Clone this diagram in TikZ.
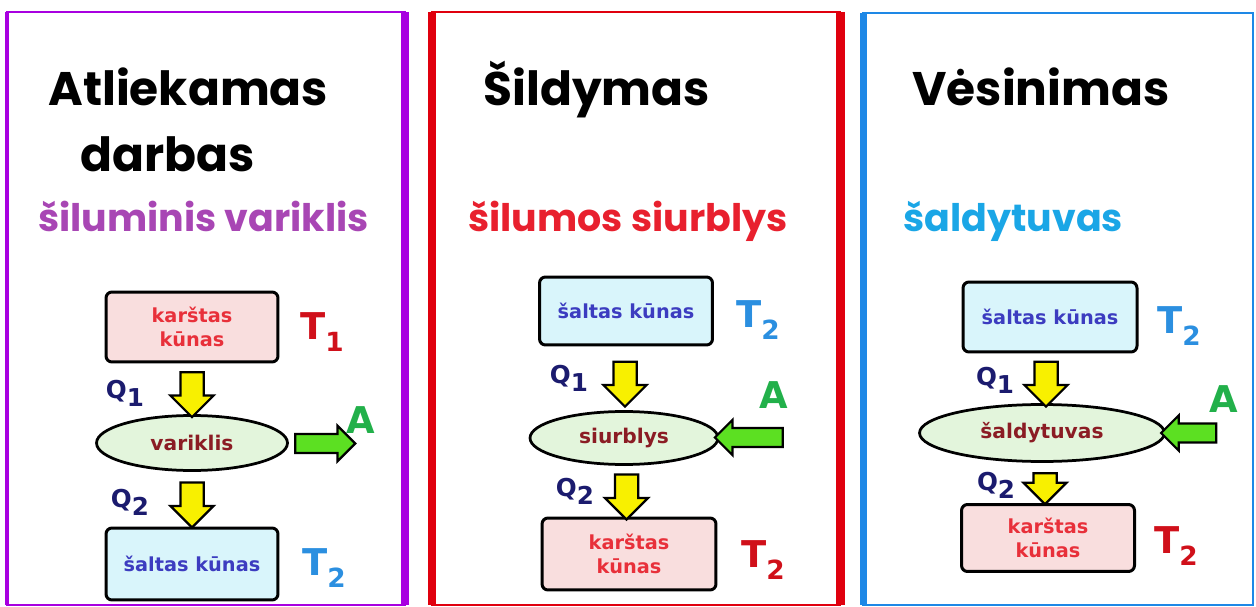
\documentclass[tikz,border=0pt]{standalone}
\usepackage{fontspec}
\setmainfont{DejaVu Sans}
\newfontfamily\headfont{Poppins}
\usetikzlibrary{shapes.geometric, shapes.arrows}

\definecolor{framepurple}{HTML}{A800E0}
\definecolor{framered}{HTML}{E0000E}
\definecolor{frameblue}{HTML}{1E88E6}
\definecolor{subpurple}{HTML}{A846B4}
\definecolor{subred}{HTML}{E8202E}
\definecolor{subblue}{HTML}{1AA6E6}
\definecolor{hotfill}{HTML}{F9DEDE}
\definecolor{coldfill}{HTML}{D9F5FB}
\definecolor{machinefill}{HTML}{E3F5DC}
\definecolor{hottext}{HTML}{E8303A}
\definecolor{coldtext}{HTML}{3C3CC0}
\definecolor{machinetext}{HTML}{8B1C24}
\definecolor{tempred}{HTML}{D0101A}
\definecolor{tempblue}{HTML}{2B8FE0}
\definecolor{heatnavy}{HTML}{1B1B6E}
\definecolor{workgreen}{HTML}{22B04A}
\definecolor{arrowgreen}{HTML}{5CE022}
\definecolor{arrowyellow}{HTML}{F8F000}

\newcommand{\withidx}[2]{#1\raisebox{-0.32em}{#2}}

\tikzset{
  headline/.style={anchor=base west, inner sep=0pt, font=\headfont\bfseries\fontsize{26.8}{28}\selectfont},
  subline/.style={anchor=base west, inner sep=0pt, font=\headfont\bfseries\fontsize{21.6}{24}\selectfont},
  body/.style={draw, line width=0.06cm, rounded corners=0.12cm, minimum width=3.44cm, minimum height=1.4cm, align=center, font=\bfseries\fontsize{11}{13.5}\selectfont},
  hotbody/.style={body, fill=hotfill, text=hottext},
  coldbody/.style={body, fill=coldfill, text=coldtext},
  machine/.style={ellipse, draw, line width=0.055cm, fill=machinefill, text=machinetext, inner sep=0pt, minimum height=1.1cm, font=\bfseries\fontsize{11.5}{13}\selectfont},
  heatflow/.style={single arrow, draw, line width=0.045cm, fill=arrowyellow, rotate=-90, inner xsep=0pt, inner ysep=0.21cm, single arrow head extend=0.2cm, minimum height=0.9cm},
  workflow/.style={single arrow, draw, line width=0.045cm, fill=arrowgreen, inner xsep=0pt, inner ysep=0.17cm, single arrow head extend=0.16cm, minimum height=1.2cm},
  templbl/.style={font=\bfseries\fontsize{21}{21}\selectfont},
  heatlbl/.style={text=heatnavy, font=\bfseries\fontsize{14}{14}\selectfont},
  worklbl/.style={text=workgreen, font=\bfseries\fontsize{21}{21}\selectfont},
}

\begin{document}
\begin{tikzpicture}[x=0.02cm, y=-0.02cm]
	\useasboundingbox (0,0) rectangle (1256,607);

	% frames
	\draw[framepurple, line width=0.05cm] (7,12) rectangle (405,605);
	\draw[framepurple, line width=0.1cm] (7,12) -- (7,605);
	\draw[framepurple, line width=0.16cm] (405,12) -- (405,605);
	\draw[framered, line width=0.05cm] (432,12) rectangle (840,605);
	\draw[framered, line width=0.16cm] (432,12) -- (432,605);
	\draw[framered, line width=0.18cm] (840,12) -- (840,605);
	\draw[frameblue, line width=0.05cm] (863,13) rectangle (1253,605);
	\draw[frameblue, line width=0.14cm] (863,13) -- (863,605);

	% headings
	\node[headline] (work) at (48,106) {Atliekamas};
	\node[headline] (work2) at (80,172) {darbas};
	\node[subline, text=subpurple] (engine) at (38,232) {šiluminis variklis};
	\node[headline] (heating) at (483,106) {Šildymas};
	\node[subline, text=subred] (pump) at (468,232) {šilumos siurblys};
	\node[headline] (cooling) at (912,106) {Vėsinimas};
	\node[subline, text=subblue] (fridge) at (903,232) {šaldytuvas};

	% heat engine
	\node[hotbody] (hot1) at (192,327) {karštas\\kūnas};
	\node[machine, minimum width=3.82cm] (eng1) at (192,443) {variklis};
	\node[coldbody, minimum height=1.44cm] (cold1) at (192,564) {šaltas kūnas};
	\path (hot1.south) -- node[heatflow] (q1arr1) {} (eng1.north);
	\path (eng1.south) -- node[heatflow] (q2arr1) {} (cold1.north);
	\coordinate (out1) at (352,444);
	\path (eng1.east) -- node[workflow] (warr1) {} (out1);
	\node[templbl, text=tempred] (t1a) at (322,332) {\withidx{T}{\fontsize{15}{15}\selectfont 1}};
	\node[templbl, text=tempblue] (t2a) at (324,568) {\withidx{T}{\fontsize{15}{15}\selectfont 2}};
	\node[heatlbl] (q1a) at (125,393) {\withidx{Q}{1}};
	\node[heatlbl] (q2a) at (130,502) {\withidx{Q}{2}};
	\node[worklbl] (wa) at (361,420) {A};

	% heat pump
	\node[coldbody, minimum width=3.46cm, minimum height=1.36cm] (cold2) at (626,311) {šaltas kūnas};
	\node[machine, minimum width=3.76cm, minimum height=1.06cm] (eng2) at (624,438) {siurblys};
	\node[hotbody, minimum width=3.48cm, minimum height=1.44cm] (hot2) at (629,554) {karštas\\kūnas};
	\path (cold2.south) -- node[heatflow] (q1arr2) {} (eng2.north);
	\path (eng2.south) -- node[heatflow] (q2arr2) {} (hot2.north);
	\coordinate (in2) at (788,437);
	\path (in2) -- node[workflow, rotate=180, minimum height=1.36cm] (warr2) {} (eng2.east);
	\node[templbl, text=tempblue] (t2b) at (758,320) {\withidx{T}{\fontsize{15}{15}\selectfont 2}};
	\node[templbl, text=tempred] (t2c) at (763,560) {\withidx{T}{\fontsize{15}{15}\selectfont 2}};
	\node[heatlbl] (q1b) at (569,378) {\withidx{Q}{1}};
	\node[heatlbl] (q2b) at (575,491) {\withidx{Q}{2}};
	\node[worklbl] (wb) at (774,395) {A};

	% fridge
	\node[coldbody, minimum width=3.48cm] (cold3) at (1050,317) {šaltas kūnas};
	\node[machine, minimum width=4.9cm, minimum height=1.14cm] (eng3) at (1042,433) {šaldytuvas};
	\node[hotbody, minimum width=3.46cm, minimum height=1.34cm] (hot3) at (1048,538) {karštas\\kūnas};
	\path (cold3.south) -- node[heatflow] (q1arr3) {} (eng3.north);
	\path (eng3.south) -- node[heatflow, minimum height=0.62cm] (q2arr3) {} (hot3.north);
	\coordinate (in3) at (1221,433);
	\path (in3) -- node[workflow, rotate=180, minimum height=1.1cm] (warr3) {} (eng3.east);
	\node[templbl, text=tempblue] (t2d) at (1179,326) {\withidx{T}{\fontsize{15}{15}\selectfont 2}};
	\node[templbl, text=tempred] (t2e) at (1176,546) {\withidx{T}{\fontsize{15}{15}\selectfont 2}};
	\node[heatlbl] (q1c) at (995,380) {\withidx{Q}{1}};
	\node[heatlbl] (q2c) at (996,485) {\withidx{Q}{2}};
	\node[worklbl] (wc) at (1224,399) {A};
\end{tikzpicture}
\end{document}
